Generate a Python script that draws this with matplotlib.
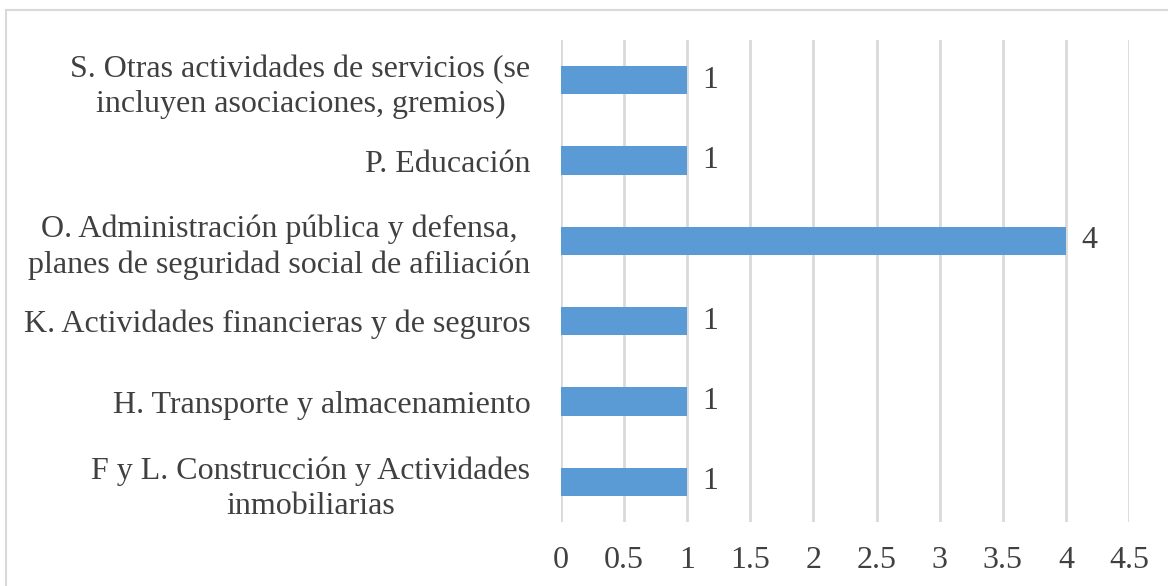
import matplotlib
matplotlib.use("Agg")
import matplotlib.pyplot as plt
from matplotlib.lines import Line2D

categories = [
    "F y L. Construcción y Actividades\ninmobiliarias",
    "H. Transporte y almacenamiento",
    "K. Actividades financieras y de seguros",
    "O. Administración pública y defensa,\nplanes de seguridad social de afiliación",
    "P. Educación",
    "S. Otras actividades de servicios (se\nincluyen asociaciones, gremios)",
]
values = [1, 1, 1, 4, 1, 1]
xticks = [0, 0.5, 1, 1.5, 2, 2.5, 3, 3.5, 4, 4.5]
xticklabels = ["0", "0.5", "1", "1.5", "2", "2.5", "3", "3.5", "4", "4.5"]

plt.rcParams['font.family'] = ['Liberation Serif', 'DejaVu Serif']
W, H = 1168, 586
fig = plt.figure(figsize=(W / 100, H / 100), dpi=100)
ax = fig.add_axes([561 / W, 1 - 522 / H, (1129 - 561) / W, (522 - 40) / H])

text_color = "#404040"
fs = 23
y = list(range(len(categories)))
ax.barh(y, values, height=0.35, color="#5B9BD5", zorder=3)
ax.set_ylim(-0.5, len(categories) - 0.5)
ax.set_xlim(0, 4.5)
ax.set_xticks(xticks)
ax.set_xticklabels(xticklabels, fontsize=fs, color=text_color)
ax.set_yticks(y)
ax.set_yticklabels(categories, fontsize=fs, color=text_color, linespacing=1.28,
                   multialignment='center')
ax.tick_params(axis='both', length=0)
ax.tick_params(axis='x', pad=17)
ax.tick_params(axis='y', pad=22)
ax.xaxis.grid(True, color="#D9D9D9", linewidth=2, zorder=0)
for s in ax.spines.values():
    s.set_visible(False)
for yi, v in zip(y, values):
    ax.annotate(str(v), (v, yi), xytext=(11, 0), textcoords='offset points',
                va='center', ha='left', fontsize=fs, color=text_color)

# chart frame (left & top visible)
fig.add_artist(Line2D([6 / W, 6 / W], [0, 1 - 10 / H], transform=fig.transFigure, color="#D9D9D9", linewidth=1.5))
fig.add_artist(Line2D([6 / W, 1], [1 - 10 / H, 1 - 10 / H], transform=fig.transFigure, color="#D9D9D9", linewidth=1.5))

fig.savefig("out.png", dpi=100)
